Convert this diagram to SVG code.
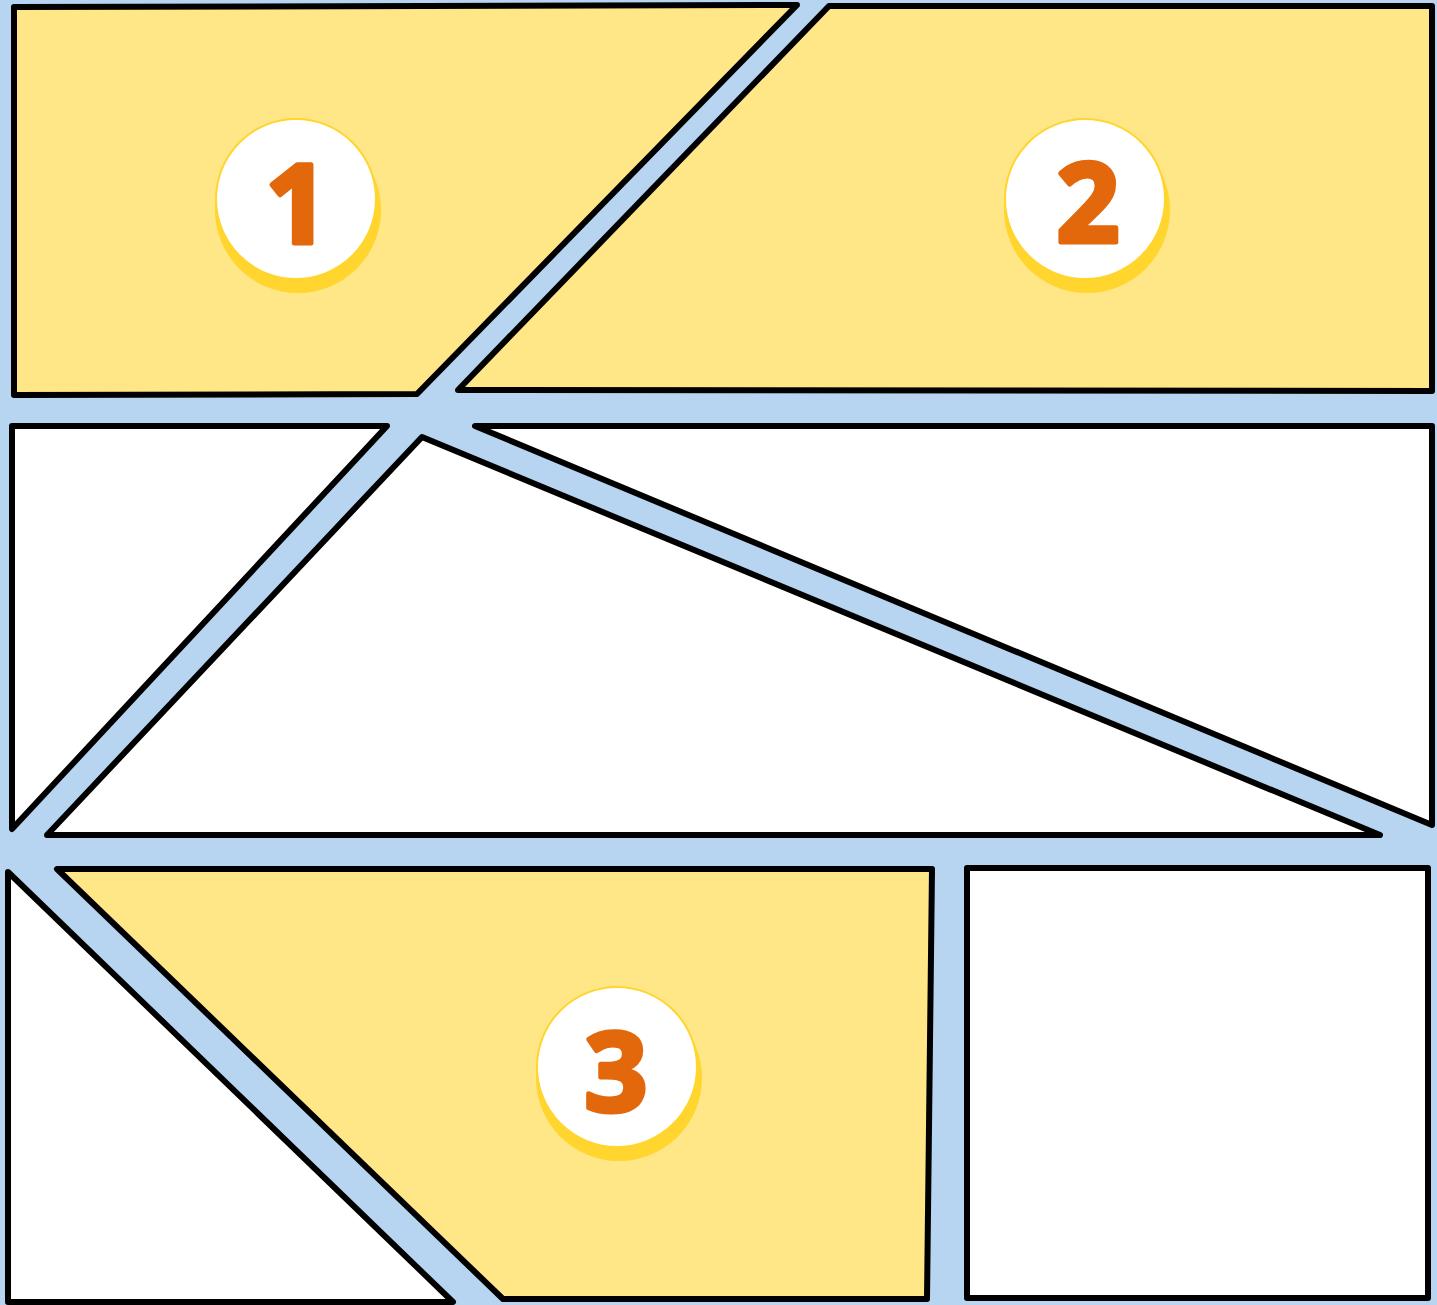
<svg xmlns="http://www.w3.org/2000/svg" width="1437" height="1305" viewBox="0 0 1437 1305">
<style>
.p{stroke:#000;stroke-width:6;stroke-linejoin:round}
.y{fill:#FFE686}
.w{fill:#FFFFFF}
.sh{fill:#FFD52E}
.c{fill:#FFFFFF;stroke:#FFD52E;stroke-width:2}
.n{font-family:"Open Sans","Liberation Sans",sans-serif;font-weight:700;font-size:110px;fill:#E2680B;stroke:#E2680B;stroke-width:5;stroke-linejoin:round;text-anchor:middle}
</style>
<rect x="0" y="0" width="1437" height="1305" fill="#B7D5F0"/>
<g id="piece1">
<polygon class="p y" points="14,7 797,5 417,394 14,395"/>
<circle class="sh" cx="298" cy="210" r="83"/>
<circle class="c" cx="296" cy="199" r="80"/>
<text class="n" x="297" y="243">1</text>
</g>
<g id="piece2">
<polygon class="p y" points="829,6 1432,6 1432,391 458,390"/>
<circle class="sh" cx="1087" cy="210" r="83"/>
<circle class="c" cx="1085" cy="199" r="80"/>
<text class="n" x="1088" y="242">2</text>
</g>
<g id="piece-left-triangle">
<polygon class="p w" points="12,426 387,426 12,829"/>
</g>
<g id="piece-middle-triangle">
<polygon class="p w" points="422,437 1380,835 47,835"/>
</g>
<g id="piece-right-triangle">
<polygon class="p w" points="475,426 1432,426 1432,825"/>
</g>
<g id="piece-bottom-left">
<polygon class="p w" points="8,872 453,1302 8,1302"/>
</g>
<g id="piece3">
<polygon class="p y" points="57,869 932,869 927,1299 503,1299"/>
<circle class="sh" cx="619" cy="1078" r="83"/>
<circle class="c" cx="617" cy="1067" r="80"/>
<text class="n" x="616" y="1111">3</text>
</g>
<g id="piece-bottom-right">
<rect class="p w" x="967" y="868" width="461" height="430"/>
</g>
<g id="connectors"></g>
</svg>
